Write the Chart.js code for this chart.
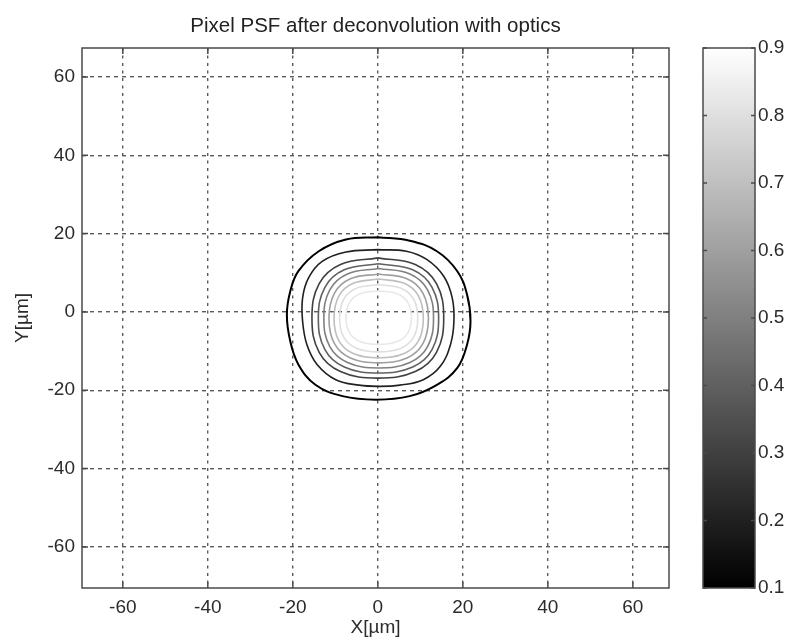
<!DOCTYPE html>
<html>
<head>
  <meta charset="utf-8" />
  <title>Pixel PSF after deconvolution with optics</title>
  <script src="https://cdn.jsdelivr.net/npm/chart.js@4"></script>
  <style>
    body { margin: 0; background: #ffffff; }
    #wrap { width: 790px; height: 644px; }
  </style>
</head>
<body>
  <div id="wrap"><canvas id="psf" width="790" height="644"></canvas></div>
  <script>
    // axis ranges and tick labels
    const xRange = [-69.6, 68.5];
    const yRange = [-70.5, 67.4];
    const xTicks = [-60, -40, -20, 0, 20, 40, 60];
    const yTicks = [-60, -40, -20, 0, 20, 40, 60];
    const cbRange = [0.1, 0.9];
    const cbTicks = [0.1, 0.2, 0.3, 0.4, 0.5, 0.6, 0.7, 0.8, 0.9];

    // contour levels, outermost first
    const levels = [0.1, 0.2, 0.3, 0.4, 0.5, 0.6, 0.7, 0.8, 0.9];

    // contour outlines [x, y] in µm
    const c1 = [[0, 19.1], [-7.5, 18.5], [-13.9, 15.5], [-18.7, 10.4], [-20.6, 5.3], [-21.4, -0.7], [-20.6, -7.5],
      [-18.7, -13.4], [-14.7, -18.6], [-8.3, -21.5], [-0.4, -22.4], [7.5, -21.5], [13.9, -18.6], [18.7, -14.3],
      [21.0, -8.3], [21.8, -2.4], [21.0, 4.4], [18.7, 10.4], [13.9, 15.5], [7.5, 18.2]];
    const c2 = [[0, 15.9], [-7.5, 15.3], [-13.1, 12.9], [-16.3, 8.7], [-17.7, 3.6], [-17.7, -2.4], [-16.7, -8.3],
      [-14.3, -13.4], [-9.9, -17.3], [-4.4, -18.7], [0, -19.0], [5.2, -18.7], [10.7, -17.3], [14.7, -13.9],
      [17.1, -8.3], [17.9, -2.4], [17.5, 3.6], [15.5, 9.1], [11.5, 13.4], [6.7, 15.5]];
    const c3 = [[0, 13.8], [-8.8, 12.1], [-13.8, 7.2], [-15.5, -1.55], [-13.8, -10.3], [-8.8, -15.2],
      [0, -16.9], [8.8, -15.2], [13.8, -10.3], [15.5, -1.55], [13.8, 7.2], [8.8, 12.1]];
    const c4 = [[0.15, 12.3], [-7.9, 10.75], [-12.45, 6.3], [-14.0, -1.65], [-12.45, -9.6], [-7.9, -14.05],
      [0.15, -15.6], [8.2, -14.05], [12.75, -9.6], [14.3, -1.65], [12.75, 6.3], [8.2, 10.75]];
    const c5 = [[0.2, 11.1], [-7.15, 9.7], [-11.3, 5.65], [-12.7, -1.6], [-11.3, -8.85], [-7.15, -12.9],
      [0.2, -14.3], [7.55, -12.9], [11.7, -8.85], [13.1, -1.6], [11.7, 5.65], [7.55, 9.7]];
    const c6 = [[0.2, 9.7], [-6.45, 8.45], [-10.2, 4.8], [-11.5, -1.65], [-10.2, -8.1], [-6.45, -11.75],
      [0.2, -13.0], [6.85, -11.75], [10.6, -8.1], [11.9, -1.65], [10.6, 4.8], [6.85, 8.45]];
    const c7 = [[0.2, 8.4], [-5.8, 7.3], [-9.15, 4.1], [-10.3, -1.65], [-9.15, -7.4], [-5.8, -10.6],
      [0.2, -11.7], [6.2, -10.6], [9.55, -7.4], [10.7, -1.65], [9.55, 4.1], [6.2, 7.3]];
    const c8 = [[0.2, 7.0], [-5.05, 6.05], [-8.0, 3.3], [-9.0, -1.6], [-8.0, -6.5], [-5.05, -9.25],
      [0.2, -10.2], [5.45, -9.25], [8.4, -6.5], [9.4, -1.6], [8.4, 3.3], [5.45, 6.05]];
    const c9 = [[0.2, 5.4], [-4.2, 4.65], [-6.65, 2.45], [-7.5, -1.45], [-6.65, -5.35], [-4.2, -7.55],
      [0.2, -8.3], [4.6, -7.55], [7.05, -5.35], [7.9, -1.45], [7.05, 2.45], [4.6, 4.65]];
    const contours = [c1, c2, c3, c4, c5, c6, c7, c8, c9];

    const FONT = "'Liberation Sans', Arial, Helvetica, sans-serif";
    const TEXT = '#2b2b2b';
    const FRAME = '#4a4a4a';

    // gray colormap, same mapping as the colorbar (lightest kept visible on white)
    function levelColor(v) {
      const t = (v - cbRange[0]) / (cbRange[1] - cbRange[0]);
      const g = Math.round(Math.min(232, t * 255));
      return 'rgb(' + g + ',' + g + ',' + g + ')';
    }

    const datasets = contours.map((pts, i) => ({
      label: 'level ' + levels[i],
      data: pts.concat([pts[0]]).map(p => ({ x: p[0], y: p[1] })),
      showLine: true,
      pointRadius: 0,
      borderColor: levelColor(levels[i]),
      borderWidth: i === 0 ? 2 : 1.6,
      tension: 0.4,
      fill: false
    }));

    // frame, inward ticks (matlab style) and the colorbar
    const matlabFrame = {
      id: 'matlabFrame',
      afterDraw(chart) {
        const { ctx, chartArea: a, scales } = chart;
        const sx = scales.x, sy = scales.y, cb = scales.cb;
        ctx.save();
        ctx.strokeStyle = FRAME;
        ctx.lineWidth = 1.5;
        ctx.strokeRect(a.left, a.top, a.right - a.left, a.bottom - a.top);
        ctx.beginPath();
        xTicks.forEach(v => {
          const px = sx.getPixelForValue(v);
          ctx.moveTo(px, a.bottom); ctx.lineTo(px, a.bottom - 6);
          ctx.moveTo(px, a.top); ctx.lineTo(px, a.top + 6);
        });
        yTicks.forEach(v => {
          const py = sy.getPixelForValue(v);
          ctx.moveTo(a.left, py); ctx.lineTo(a.left + 6, py);
          ctx.moveTo(a.right, py); ctx.lineTo(a.right - 6, py);
        });
        ctx.stroke();

        // colorbar
        const left = cb.left + 34, w = 52;
        const top = cb.getPixelForValue(cbRange[1]);
        const bot = cb.getPixelForValue(cbRange[0]);
        const grad = ctx.createLinearGradient(0, bot, 0, top);
        grad.addColorStop(0, '#000000');
        grad.addColorStop(1, '#ffffff');
        ctx.fillStyle = grad;
        ctx.fillRect(left, top, w, bot - top);
        ctx.strokeRect(left, top, w, bot - top);
        ctx.beginPath();
        cbTicks.forEach(v => {
          const py = cb.getPixelForValue(v);
          ctx.moveTo(left, py); ctx.lineTo(left + 4, py);
          ctx.moveTo(left + w, py); ctx.lineTo(left + w - 4, py);
        });
        ctx.stroke();
        ctx.restore();
      }
    };

    new Chart(document.getElementById('psf'), {
      type: 'scatter',
      data: { datasets },
      options: {
        responsive: false,
        animation: false,
        layout: { padding: 0 },
        plugins: {
          legend: { display: false },
          tooltip: { enabled: false },
          title: {
            display: true,
            fullSize: false,
            text: 'Pixel PSF after deconvolution with optics',
            color: '#222',
            font: { family: FONT, size: 20.5, weight: 'normal' },
            padding: { top: 14, bottom: 9.4 }
          }
        },
        scales: {
          x: {
            type: 'linear',
            position: 'bottom',
            min: xRange[0],
            max: xRange[1],
            afterBuildTicks: s => { s.ticks = xTicks.map(v => ({ value: v })); },
            afterFit: s => { s.height = 56; },
            ticks: { color: TEXT, font: { family: FONT, size: 19 }, padding: 8, maxRotation: 0, autoSkip: false },
            grid: { color: '#5a5a5a', lineWidth: 1.4, drawTicks: false },
            border: { display: false, dash: [3, 4.5] },
            title: { display: true, text: 'X[µm]', color: TEXT, font: { family: FONT, size: 19 }, padding: { top: 0, bottom: 5 } }
          },
          y: {
            type: 'linear',
            position: 'left',
            min: yRange[0],
            max: yRange[1],
            afterBuildTicks: s => { s.ticks = yTicks.map(v => ({ value: v })); },
            afterFit: s => { s.width = 82; },
            ticks: { color: TEXT, font: { family: FONT, size: 19 }, padding: 7 },
            grid: { color: '#5a5a5a', lineWidth: 1.4, drawTicks: false },
            border: { display: false, dash: [4, 4] },
            title: { display: true, text: 'Y[µm]', color: TEXT, font: { family: FONT, size: 19 }, padding: { top: 11, bottom: 0 } }
          },
          cb: {
            type: 'linear',
            position: 'right',
            min: cbRange[0],
            max: cbRange[1],
            afterBuildTicks: s => { s.ticks = cbTicks.map(v => ({ value: v })); },
            afterFit: s => { s.width = 121; },
            ticks: { color: TEXT, font: { family: FONT, size: 19 }, padding: 3, callback: v => v.toFixed(1) },
            // tick marks hidden; their length only pushes the labels past the colour bar
            grid: { display: false, drawTicks: true, tickLength: 86 },
            border: { display: false }
          }
        }
      },
      plugins: [matlabFrame]
    });
  </script>
</body>
</html>
